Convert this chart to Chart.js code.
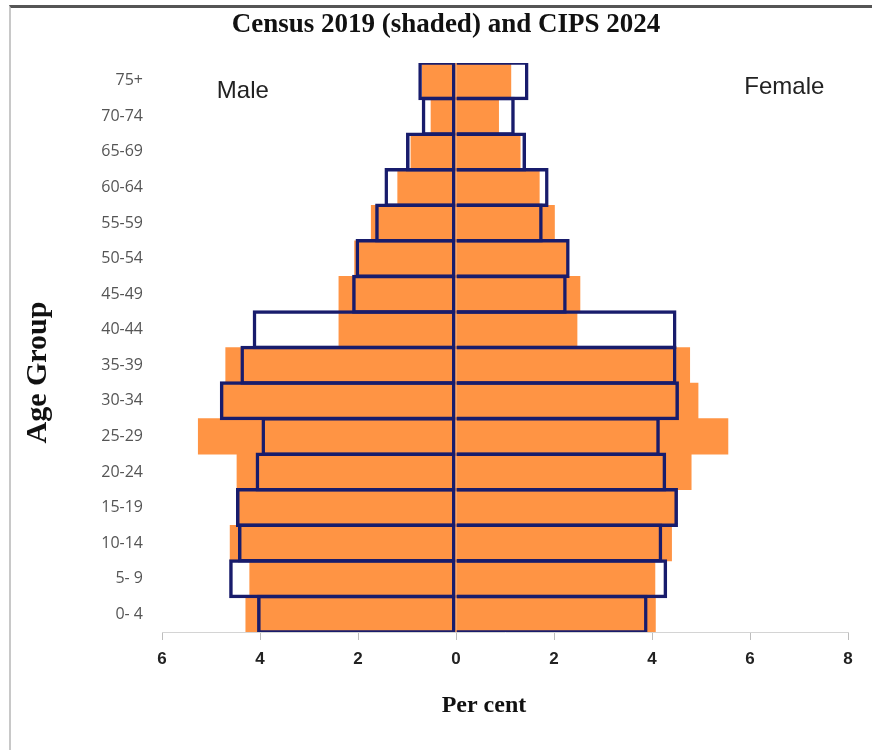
<!DOCTYPE html>
<html>
<head>
<meta charset="utf-8">
<script src="https://cdn.jsdelivr.net/npm/chart.js@4/dist/chart.umd.min.js"></script>
<style>
  html, body { margin: 0; padding: 0; background: #fff; }
  #wrap { position: relative; width: 872px; height: 750px; overflow: hidden; }
  #frame { position: absolute; left: 9px; top: 5px; right: 0; bottom: 0;
           border-top: 3px solid #555; border-left: 2px solid #c8c8c8; }
  canvas { position: absolute; left: 0; top: 0; }
</style>
</head>
<body>
<div id="wrap">
  <div id="frame"></div>
  <canvas id="pyramid" width="872" height="750"></canvas>
</div>
<script>
// 年龄组（从低到高）
const ageGroups = ['0- 4', '5- 9', '10-14', '15-19', '20-24', '25-29', '30-34', '35-39',
                   '40-44', '45-49', '50-54', '55-59', '60-64', '65-69', '70-74', '75+'];

// Census 2019（阴影）
const censusMale   = [4.29, 4.21, 4.61, 4.47, 4.47, 5.26, 4.78, 4.70, 2.39, 2.39, 2.07, 1.73, 1.19, 0.92, 0.51, 0.69];
const censusFemale = [4.07, 4.06, 4.40, 4.50, 4.80, 5.55, 4.94, 4.77, 2.47, 2.53, 2.30, 2.01, 1.70, 1.31, 0.87, 1.12];

// CIPS 2024（轮廓）
const cipsMale   = [4.06, 4.63, 4.45, 4.49, 4.09, 3.97, 4.82, 4.40, 4.15, 2.12, 2.05, 1.65, 1.46, 1.02, 0.70, 0.77];
const cipsFemale = [3.91, 4.31, 4.21, 4.53, 4.29, 4.16, 4.55, 4.50, 4.50, 2.26, 2.32, 1.77, 1.89, 1.43, 1.20, 1.48];

const xTicks = [-6, -4, -2, 0, 2, 4, 6, 8];

const orange = 'rgb(255, 148, 68)';
const navy = 'rgb(24, 28, 108)';
const serif = '"Liberation Serif", "Times New Roman", serif';
const sans = '"Liberation Sans", Arial, sans-serif';

// 文字：标题、男/女、坐标轴标题
const extraText = {
    id: 'extraText',
    afterDraw(chart) {
        const ctx = chart.ctx;
        const x = chart.scales.x, y = chart.scales.y;
        const area = chart.chartArea;
        const top = y.getPixelForValue(ageGroups.length - 1);
        ctx.save();
        ctx.textAlign = 'center';
        ctx.textBaseline = 'middle';

        ctx.fillStyle = '#111';
        ctx.font = 'bold 27px ' + serif;
        ctx.fillText('Census 2019 (shaded) and CIPS 2024', 446, 25);

        ctx.fillStyle = '#222';
        ctx.font = '24px ' + sans;
        ctx.fillText('Male', x.getPixelForValue(-4.35), top + 11);
        ctx.fillText('Female', x.getPixelForValue(6.7), top + 7);

        ctx.fillStyle = '#111';
        ctx.font = 'bold 24px ' + serif;
        ctx.fillText('Per cent', x.getPixelForValue(0.57), area.bottom + 74);

        ctx.translate(38, (area.top + area.bottom) / 2 + 25);
        ctx.rotate(-Math.PI / 2);
        ctx.font = 'bold 30px ' + serif;
        ctx.fillText('Age Group', 0, 0);
        ctx.restore();
    }
};

function shadedSet(values, sign) {
    return {
        data: values.map(v => v * sign),
        backgroundColor: orange,
        borderWidth: 0,
        order: 2
    };
}

function outlineSet(values, sign) {
    return {
        data: values.map(v => v * sign),
        backgroundColor: 'rgba(0,0,0,0)',
        borderColor: navy,
        // 零线只由男性一侧画出
        borderWidth: sign < 0 ? { top: 3.5, bottom: 3.5, left: 3.5, right: 3.5 }
                              : { top: 3.5, bottom: 3.5, left: 0, right: 3.5 },
        borderSkipped: false,
        barPercentage: 1.098,
        order: 1
    };
}

new Chart(document.getElementById('pyramid').getContext('2d'), {
    type: 'bar',
    data: {
        labels: ageGroups,
        datasets: [
            shadedSet(censusMale, -1),
            shadedSet(censusFemale, 1),
            outlineSet(cipsMale, -1),
            outlineSet(cipsFemale, 1)
        ]
    },
    options: {
        indexAxis: 'y',
        responsive: false,
        animation: false,
        layout: { padding: { top: 63, left: 0, right: 24, bottom: 0 } },
        datasets: { bar: { categoryPercentage: 1, barPercentage: 1 } },
        plugins: {
            legend: { display: false },
            tooltip: { enabled: false },
            title: { display: false }
        },
        scales: {
            x: {
                min: -6,
                max: 8,
                afterBuildTicks: scale => { scale.ticks = xTicks.map(v => ({ value: v })); },
                afterFit: scale => { scale.height = 118; },
                border: { display: true, color: '#d4d4d4', width: 1 },
                grid: { drawOnChartArea: false, drawTicks: true, tickLength: 8, color: '#bdbdbd' },
                ticks: {
                    padding: 9,
                    color: '#222',
                    font: { family: sans, size: 17, weight: 'bold' },
                    callback: v => Math.abs(v)
                }
            },
            y: {
                stacked: true,
                reverse: true,
                afterFit: scale => { scale.width = 162; },
                border: { display: false },
                grid: { display: false, drawTicks: false },
                ticks: {
                    padding: 19,
                    color: '#555',
                    font: { family: '"Open Sans", sans-serif', size: 16 }
                }
            }
        }
    },
    plugins: [extraText]
});
</script>
</body>
</html>
